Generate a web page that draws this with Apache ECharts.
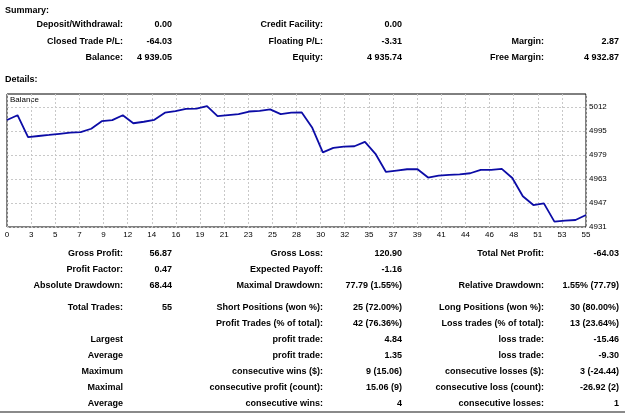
<!DOCTYPE html>
<html>
<head>
<meta charset="utf-8">
<script src="https://cdn.jsdelivr.net/npm/echarts@6/dist/echarts.min.js"></script>
<style>
html,body{margin:0;padding:0;background:#fff;}
#main{width:625px;height:413px;}
</style>
</head>
<body>
<div id="main"></div>
<script>
// balance after each trade (0 = start)
var balance = [
	5003.08, 5006.3, 4991.5, 4992.3, 4993.0, 4993.8, 4994.6, 4994.9, 4997.2, 5002.3,
	5003.0, 5006.3, 5000.9, 5001.9, 5003.2, 5008.0, 5009.0, 5010.6, 5010.8, 5012.4,
	5005.7, 5006.4, 5007.0, 5008.8, 5009.3, 5010.2, 5007.0, 5008.0, 5008.2, 4997.8,
	4981.3, 4984.3, 4985.2, 4985.4, 4988.4, 4980.3, 4968.1, 4969.0, 4969.9, 4969.9,
	4964.3, 4965.6, 4966.1, 4966.4, 4967.2, 4969.5, 4969.5, 4970.2, 4964.0, 4951.7,
	4945.8, 4946.9, 4934.6, 4935.3, 4935.7, 4939.05
];
var xLabels = ['0','3','5','7','9','12','14','16','19','21','23','25','28','30','32','35','37','39','41','44','46','48','51','53','55'];
var yTicks = [4931, 4947.2, 4963.4, 4979.6, 4995.8, 5012];
var yMin = 4931, yMax = 5020.6;

var summaryRows = [
	[['Deposit/Withdrawal:', '0.00'], ['Credit Facility:', '0.00'], null],
	[['Closed Trade P/L:', '-64.03'], ['Floating P/L:', '-3.31'], ['Margin:', '2.87']],
	[['Balance:', '4 939.05'], ['Equity:', '4 935.74'], ['Free Margin:', '4 932.87']]
];
var detailRows = [
	[['Gross Profit:', '56.87'], ['Gross Loss:', '120.90'], ['Total Net Profit:', '-64.03']],
	[['Profit Factor:', '0.47'], ['Expected Payoff:', '-1.16'], null],
	[['Absolute Drawdown:', '68.44'], ['Maximal Drawdown:', '77.79 (1.55%)'], ['Relative Drawdown:', '1.55% (77.79)']],
	[['Total Trades:', '55'], ['Short Positions (won %):', '25 (72.00%)'], ['Long Positions (won %):', '30 (80.00%)']],
	[null, ['Profit Trades (% of total):', '42 (76.36%)'], ['Loss trades (% of total):', '13 (23.64%)']],
	[['Largest', ''], ['profit trade:', '4.84'], ['loss trade:', '-15.46']],
	[['Average', ''], ['profit trade:', '1.35'], ['loss trade:', '-9.30']],
	[['Maximum', ''], ['consecutive wins ($):', '9 (15.06)'], ['consecutive losses ($):', '3 (-24.44)']],
	[['Maximal', ''], ['consecutive profit (count):', '15.06 (9)'], ['consecutive loss (count):', '-26.92 (2)']],
	[['Average', ''], ['consecutive wins:', '4'], ['consecutive losses:', '1']]
];

var myChart = echarts.init(document.getElementById('main'));

var xMax = balance.length - 1;
var xStep = xMax / (xLabels.length - 1);
var xTicks = xLabels.map(function (l, i) { return i * xStep; });
var points = balance.map(function (v, i) { return [i, v]; });

var boldFont = 'bold 9px "Liberation Sans", Arial, sans-serif';
var labelX = [123, 323, 544];
var valueX = [172, 402, 619];
var graphics = [];

function addText(text, x, y, align, font) {
	graphics.push({
		type: 'text', x: x, y: y, silent: true,
		style: { text: text, font: font || boldFont, fill: '#000', align: align || 'left', verticalAlign: 'middle' }
	});
}
function addRows(rows, ys) {
	for (var r = 0; r < rows.length; r++) {
		for (var c = 0; c < 3; c++) {
			var cell = rows[r][c];
			if (!cell) continue;
			addText(cell[0], labelX[c], ys[r], 'right');
			if (cell[1]) addText(cell[1], valueX[c], ys[r], 'right');
		}
	}
}

addText('Summary:', 5, 11, 'left');
addRows(summaryRows, [25, 41.5, 57.5]);
addText('Details:', 5, 80, 'left');
addRows(detailRows, [254, 270, 286, 308, 324, 340, 356, 372, 388, 404]);
addText('Balance', 10, 100, 'left', '8px "Liberation Sans", Arial, sans-serif');
graphics.push({
	type: 'line', silent: true,
	shape: { x1: 0, y1: 412, x2: 625, y2: 412 },
	style: { stroke: '#8a8a8a', lineWidth: 2 }
});

var option = {
	animation: false,
	grid: {
		left: 7, right: 39, top: 94, bottom: 186,
		show: true, borderColor: '#000', borderWidth: 1,
		containLabel: false, outerBoundsMode: 'none'
	},
	xAxis: {
		type: 'value', min: 0, max: xMax,
		axisLine: { show: false },
		axisTick: { show: false, customValues: xTicks },
		axisLabel: {
			customValues: xTicks, margin: 4,
			color: '#000', fontSize: 8, fontFamily: '"Liberation Sans", Arial, sans-serif',
			formatter: function (v) { return xLabels[Math.round(v / xStep)]; }
		},
		splitLine: { show: true, lineStyle: { color: '#c8c8c8', type: [2, 2], width: 1 } }
	},
	yAxis: {
		type: 'value', position: 'right', min: yMin, max: yMax,
		axisLine: { show: false },
		axisTick: { show: false, customValues: yTicks },
		axisLabel: {
			customValues: yTicks, margin: 3,
			color: '#000', fontSize: 8, fontFamily: '"Liberation Sans", Arial, sans-serif',
			formatter: function (v) { return String(Math.floor(v + 0.0001)); }
		},
		splitLine: { show: true, lineStyle: { color: '#c8c8c8', type: [2, 2], width: 1 } }
	},
	series: [{
		name: 'Balance', type: 'line', symbol: 'none',
		lineStyle: { color: '#0c0ca6', width: 1.8 },
		data: points
	}],
	graphic: graphics
};
myChart.setOption(option);
</script>
</body>
</html>
